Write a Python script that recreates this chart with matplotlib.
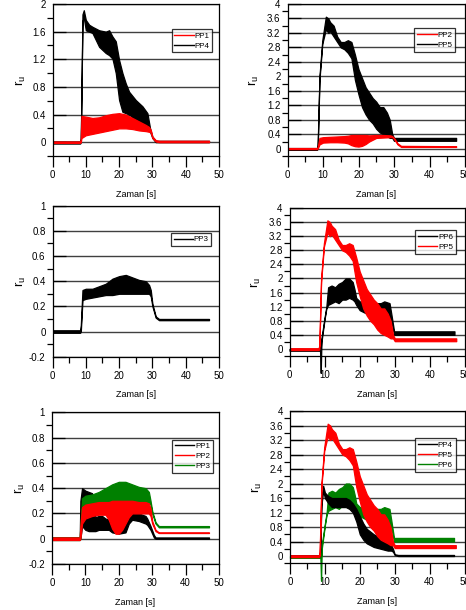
import numpy as np
import matplotlib
matplotlib.use("Agg")
import matplotlib.pyplot as plt
from matplotlib.lines import Line2D
from matplotlib.ticker import MultipleLocator, FuncFormatter

plt.rcParams['font.family'] = ['Liberation Sans', 'DejaVu Sans']
plt.rcParams['axes.unicode_minus'] = False

RED = '#ff0000'
GREEN = '#008000'
BLACK = '#000000'

# ---- data: time [s], lower and upper envelope of r_u ----
# PP4 (top left)
pp4_t = [0, 8.3, 8.5, 9.0, 9.4, 10, 11, 12, 14, 16, 17, 18, 19, 20, 21, 22, 23, 25, 27, 28.5, 29.3, 30, 31, 31.5, 47]
pp4_hi = [0.01, 0.01, 0.05, 1.85, 1.91, 1.77, 1.70, 1.67, 1.62, 1.60, 1.62, 1.53, 1.46, 1.19, 1.0, 0.85, 0.73, 0.61, 0.52, 0.42, 0.2, 0.08, 0.02, 0.02, 0.02]
pp4_lo = [-0.02, -0.02, 0.0, 1.75, 1.8, 1.62, 1.60, 1.58, 1.38, 1.29, 1.26, 1.21, 1.0, 0.61, 0.44, 0.42, 0.40, 0.32, 0.27, 0.23, 0.15, 0.06, 0.0, 0.0, 0.0]

# PP1 (top left)
pp1a_t = [0, 8.3, 8.5, 8.7, 10, 12, 14, 16, 18, 20, 22, 24, 26, 28, 29, 29.5, 30, 31, 32, 47]
pp1a_hi = [0.01, 0.01, 0.05, 0.38, 0.37, 0.35, 0.36, 0.39, 0.41, 0.42, 0.40, 0.35, 0.30, 0.25, 0.22, 0.18, 0.08, 0.03, 0.02, 0.02]
pp1a_lo = [-0.01, -0.01, 0.0, 0.06, 0.10, 0.12, 0.14, 0.16, 0.18, 0.20, 0.20, 0.19, 0.17, 0.16, 0.15, 0.14, 0.06, 0.01, 0.0, 0.0]

# PP5
pp5_t = [0, 8.3, 8.5, 9.0, 9.8, 10.8, 11.5, 12, 13, 14, 15, 16, 17, 18, 19, 20, 21, 22, 23, 24, 25, 26, 27, 28, 28.8, 29.5, 30, 30.5, 47.5]
pp5_hi = [0.02, 0.02, 0.1, 2.0, 3.0, 3.65, 3.6, 3.5, 3.4, 3.1, 2.95, 2.95, 3.0, 2.95, 2.6, 2.2, 1.95, 1.7, 1.55, 1.4, 1.3, 1.15, 1.15, 1.0, 0.8, 0.4, 0.3, 0.3, 0.3]
pp5_lo = [-0.03, -0.03, 0.0, 1.9, 2.9, 3.3, 3.2, 3.25, 3.1, 2.95, 2.8, 2.75, 2.65, 2.5, 1.9, 1.5, 1.15, 0.95, 0.8, 0.7, 0.55, 0.45, 0.4, 0.35, 0.3, 0.3, 0.22, 0.22, 0.22]

# PP2 (top right)
pp2a_t = [0, 8.3, 8.5, 9, 10, 12, 14, 16, 17, 18, 19, 20, 21, 22, 23, 25, 27, 29, 29.5, 30, 31, 32, 47.5]
pp2a_hi = [0.02, 0.02, 0.05, 0.3, 0.32, 0.33, 0.34, 0.35, 0.36, 0.38, 0.38, 0.38, 0.38, 0.38, 0.37, 0.38, 0.38, 0.37, 0.35, 0.3, 0.15, 0.08, 0.07]
pp2a_lo = [-0.01, -0.01, 0.0, 0.12, 0.17, 0.18, 0.18, 0.17, 0.15, 0.1, 0.07, 0.06, 0.08, 0.13, 0.2, 0.3, 0.31, 0.32, 0.32, 0.27, 0.12, 0.05, 0.05]

# PP3 (middle left)
pp3a_t = [0, 8.3, 8.5, 9, 10, 12, 14, 16, 18, 20, 22, 24, 26, 28, 29, 29.5, 30, 31, 32, 47]
pp3a_hi = [0.01, 0.01, 0.05, 0.33, 0.34, 0.34, 0.36, 0.38, 0.42, 0.44, 0.45, 0.43, 0.41, 0.40, 0.37, 0.33, 0.22, 0.12, 0.1, 0.1]
pp3a_lo = [-0.01, -0.01, 0.0, 0.25, 0.26, 0.27, 0.28, 0.29, 0.29, 0.30, 0.30, 0.30, 0.30, 0.30, 0.30, 0.28, 0.2, 0.11, 0.09, 0.09]

# PP6
pp6_t = [0, 8.3, 8.7, 8.9, 9.1, 10, 10.5, 11, 12, 13, 14, 15, 16, 17, 18, 18.5, 19, 20, 22, 24, 26, 27, 28.5, 29, 29.8, 30.5, 47]
pp6_hi = [0.0, 0.0, 0.15, 0.0, 0.3, 0.9, 1.2, 1.75, 1.8, 1.75, 1.85, 1.9, 2.0, 2.0, 1.9, 1.7, 1.45, 1.35, 1.3, 1.3, 1.3, 1.35, 1.3, 1.0, 0.5, 0.5, 0.5]
pp6_lo = [-0.05, -0.05, -0.05, -0.68, 0.2, 0.85, 1.15, 1.25, 1.3, 1.35, 1.3, 1.4, 1.4, 1.45, 1.4, 1.35, 1.25, 1.1, 1.0, 0.95, 0.9, 0.9, 0.9, 0.8, 0.4, 0.4, 0.4]

# PP1 / PP2 / PP3 (bottom left)
pp1b_t = [0, 8.3, 8.5, 9, 10, 11, 12, 13, 14, 15, 16, 17, 18, 20, 22, 23, 24, 26, 28, 28.5, 29.5, 30.5, 31, 47]
pp1b_hi = [0.01, 0.01, 0.3, 0.4, 0.38, 0.37, 0.36, 0.17, 0.18, 0.18, 0.16, 0.15, 0.1, 0.08, 0.12, 0.2, 0.22, 0.2, 0.18, 0.16, 0.1, 0.03, 0.01, 0.01]
pp1b_lo = [-0.01, -0.01, 0.0, 0.1, 0.07, 0.06, 0.06, 0.06, 0.07, 0.07, 0.07, 0.07, 0.05, 0.04, 0.05, 0.12, 0.15, 0.14, 0.12, 0.11, 0.07, 0.01, 0.0, 0.0]

pp2b_t = [0, 8.3, 8.5, 9, 10, 12, 14, 16, 17, 18, 19, 20, 21, 22, 23, 24, 26, 28, 29, 29.5, 30, 31, 32, 47]
pp2b_hi = [0.01, 0.01, 0.1, 0.25, 0.27, 0.28, 0.29, 0.29, 0.29, 0.3, 0.3, 0.3, 0.3, 0.3, 0.3, 0.3, 0.29, 0.29, 0.28, 0.24, 0.14, 0.07, 0.05, 0.05]
pp2b_lo = [-0.01, -0.01, 0.0, 0.12, 0.16, 0.18, 0.19, 0.19, 0.15, 0.08, 0.04, 0.04, 0.07, 0.12, 0.17, 0.2, 0.2, 0.2, 0.2, 0.18, 0.12, 0.06, 0.045, 0.045]

pp3b_t = [0, 8.3, 8.5, 9, 10, 12, 14, 16, 18, 20, 22, 24, 26, 28, 29, 29.5, 30, 31, 32, 47]
pp3b_hi = [0.01, 0.01, 0.1, 0.32, 0.34, 0.35, 0.37, 0.4, 0.43, 0.45, 0.45, 0.43, 0.41, 0.4, 0.37, 0.3, 0.22, 0.13, 0.1, 0.1]
pp3b_lo = [-0.01, -0.01, 0.0, 0.24, 0.27, 0.28, 0.28, 0.28, 0.28, 0.28, 0.28, 0.28, 0.28, 0.28, 0.28, 0.27, 0.2, 0.12, 0.09, 0.09]

# PP4 (bottom right)
pp4b_t = [0, 8.3, 8.6, 9.0, 9.5, 10, 11, 12, 14, 16, 17, 18, 19, 20, 21, 22, 24, 26, 28, 29, 29.5, 30, 31, 47]
pp4b_hi = [0.02, 0.02, 0.1, 1.6, 1.94, 1.75, 1.65, 1.6, 1.6, 1.6, 1.55, 1.45, 1.3, 1.1, 0.9, 0.75, 0.6, 0.5, 0.42, 0.3, 0.2, 0.05, 0.03, 0.03]
pp4b_lo = [-0.01, -0.01, 0.0, 1.4, 1.8, 1.6, 1.45, 1.35, 1.35, 1.35, 1.3, 1.2, 0.95, 0.6, 0.45, 0.35, 0.25, 0.2, 0.15, 0.15, 0.12, 0.03, 0.0, 0.0]

W, H = 466, 610
fig = plt.figure(figsize=(W / 100, H / 100), dpi=100)


def make_axes(left, top, right, bottom):
    return fig.add_axes([left / W, 1 - bottom / H, (right - left) / W, (bottom - top) / H])


def band(ax, t, lo, hi, color, clip=True):
    ax.fill_between(t, lo, hi, facecolor=color, edgecolor=color, linewidth=0.9, clip_on=clip)


def style(ax, ymax, ymajor, yminor):
    ax.set_xlim(0, 50)
    ax.set_ylim(-0.2, ymax)
    ax.xaxis.set_major_locator(MultipleLocator(10))
    ax.xaxis.set_minor_locator(MultipleLocator(5))
    ax.yaxis.set_major_locator(MultipleLocator(ymajor))
    ax.yaxis.set_minor_locator(MultipleLocator(yminor))
    ax.yaxis.set_major_formatter(FuncFormatter(lambda v, p: f"{round(v, 2):g}"))
    ax.grid(axis='y', which='major', color='#404040', linewidth=1.0)
    ax.set_axisbelow(True)
    for s in ax.spines.values():
        s.set_linewidth(0.9)
    ax.tick_params(axis='x', which='major', direction='out', length=8, width=0.9, labelsize=7, pad=2)
    ax.tick_params(axis='x', which='minor', direction='out', length=4, width=0.9)
    ax.tick_params(axis='y', which='major', direction='in', length=9, width=0.9, labelsize=7, pad=5)
    ax.tick_params(axis='y', which='minor', direction='out', length=4, width=0.9)
    ax.set_xlabel('Zaman [s]', fontsize=6.5, labelpad=7)
    ax.set_ylabel('r$_\\mathregular{u}$', fontsize=9.5)
    ax.yaxis.set_label_coords(-0.15, 0.5)


def legend(ax, items, x, y):
    handles = [Line2D([], [], color=c, lw=1.0) for _, c in items]
    labels = [n for n, _ in items]
    lg = ax.legend(handles, labels, loc='upper left', bbox_to_anchor=(x, y), fontsize=5.8,
                   frameon=True, fancybox=False, handlelength=2.4, handletextpad=0.1,
                   borderpad=0.35, labelspacing=0.3, borderaxespad=0)
    lg.get_frame().set_edgecolor('black')
    lg.get_frame().set_linewidth(0.9)


# row 1 left
ax1 = make_axes(52.5, 4, 219, 156)
style(ax1, 2, 0.4, 0.2)
band(ax1, pp4_t, pp4_lo, pp4_hi, BLACK)
band(ax1, pp1a_t, pp1a_lo, pp1a_hi, RED)
legend(ax1, [('PP1', RED), ('PP4', BLACK)], 0.715, 0.835)

# row 1 right
ax2 = make_axes(287.5, 4, 465, 156)
style(ax2, 4, 0.4, 0.2)
band(ax2, pp5_t, pp5_lo, pp5_hi, BLACK)
band(ax2, pp2a_t, pp2a_lo, pp2a_hi, RED)
legend(ax2, [('PP2', RED), ('PP5', BLACK)], 0.715, 0.84)

# row 2 left
ax3 = make_axes(52.5, 205.7, 219, 356.7)
style(ax3, 1, 0.2, 0.1)
band(ax3, pp3a_t, pp3a_lo, pp3a_hi, BLACK)
legend(ax3, [('PP3', BLACK)], 0.71, 0.82)

# row 2 right
ax4 = make_axes(289.5, 208, 465, 356)
style(ax4, 4, 0.4, 0.2)
band(ax4, pp6_t, pp6_lo, pp6_hi, BLACK, clip=False)
band(ax4, pp5_t, pp5_lo, pp5_hi, RED)
legend(ax4, [('PP6', BLACK), ('PP5', RED)], 0.715, 0.85)

# row 3 left
ax5 = make_axes(52, 412.3, 219, 564)
style(ax5, 1, 0.2, 0.1)
band(ax5, pp1b_t, pp1b_lo, pp1b_hi, BLACK)
band(ax5, pp3b_t, pp3b_lo, pp3b_hi, GREEN)
band(ax5, pp2b_t, pp2b_lo, pp2b_hi, RED)
legend(ax5, [('PP1', BLACK), ('PP2', RED), ('PP3', GREEN)], 0.72, 0.82)

# row 3 right
ax6 = make_axes(290, 411, 464.5, 563.3)
style(ax6, 4, 0.4, 0.2)
band(ax6, pp6_t, pp6_lo, pp6_hi, GREEN, clip=False)
band(ax6, pp4b_t, pp4b_lo, pp4b_hi, BLACK)
band(ax6, pp5_t, pp5_lo, pp5_hi, RED)
legend(ax6, [('PP4', BLACK), ('PP5', RED), ('PP6', GREEN)], 0.715, 0.82)

fig.savefig('out.png', dpi=100)
